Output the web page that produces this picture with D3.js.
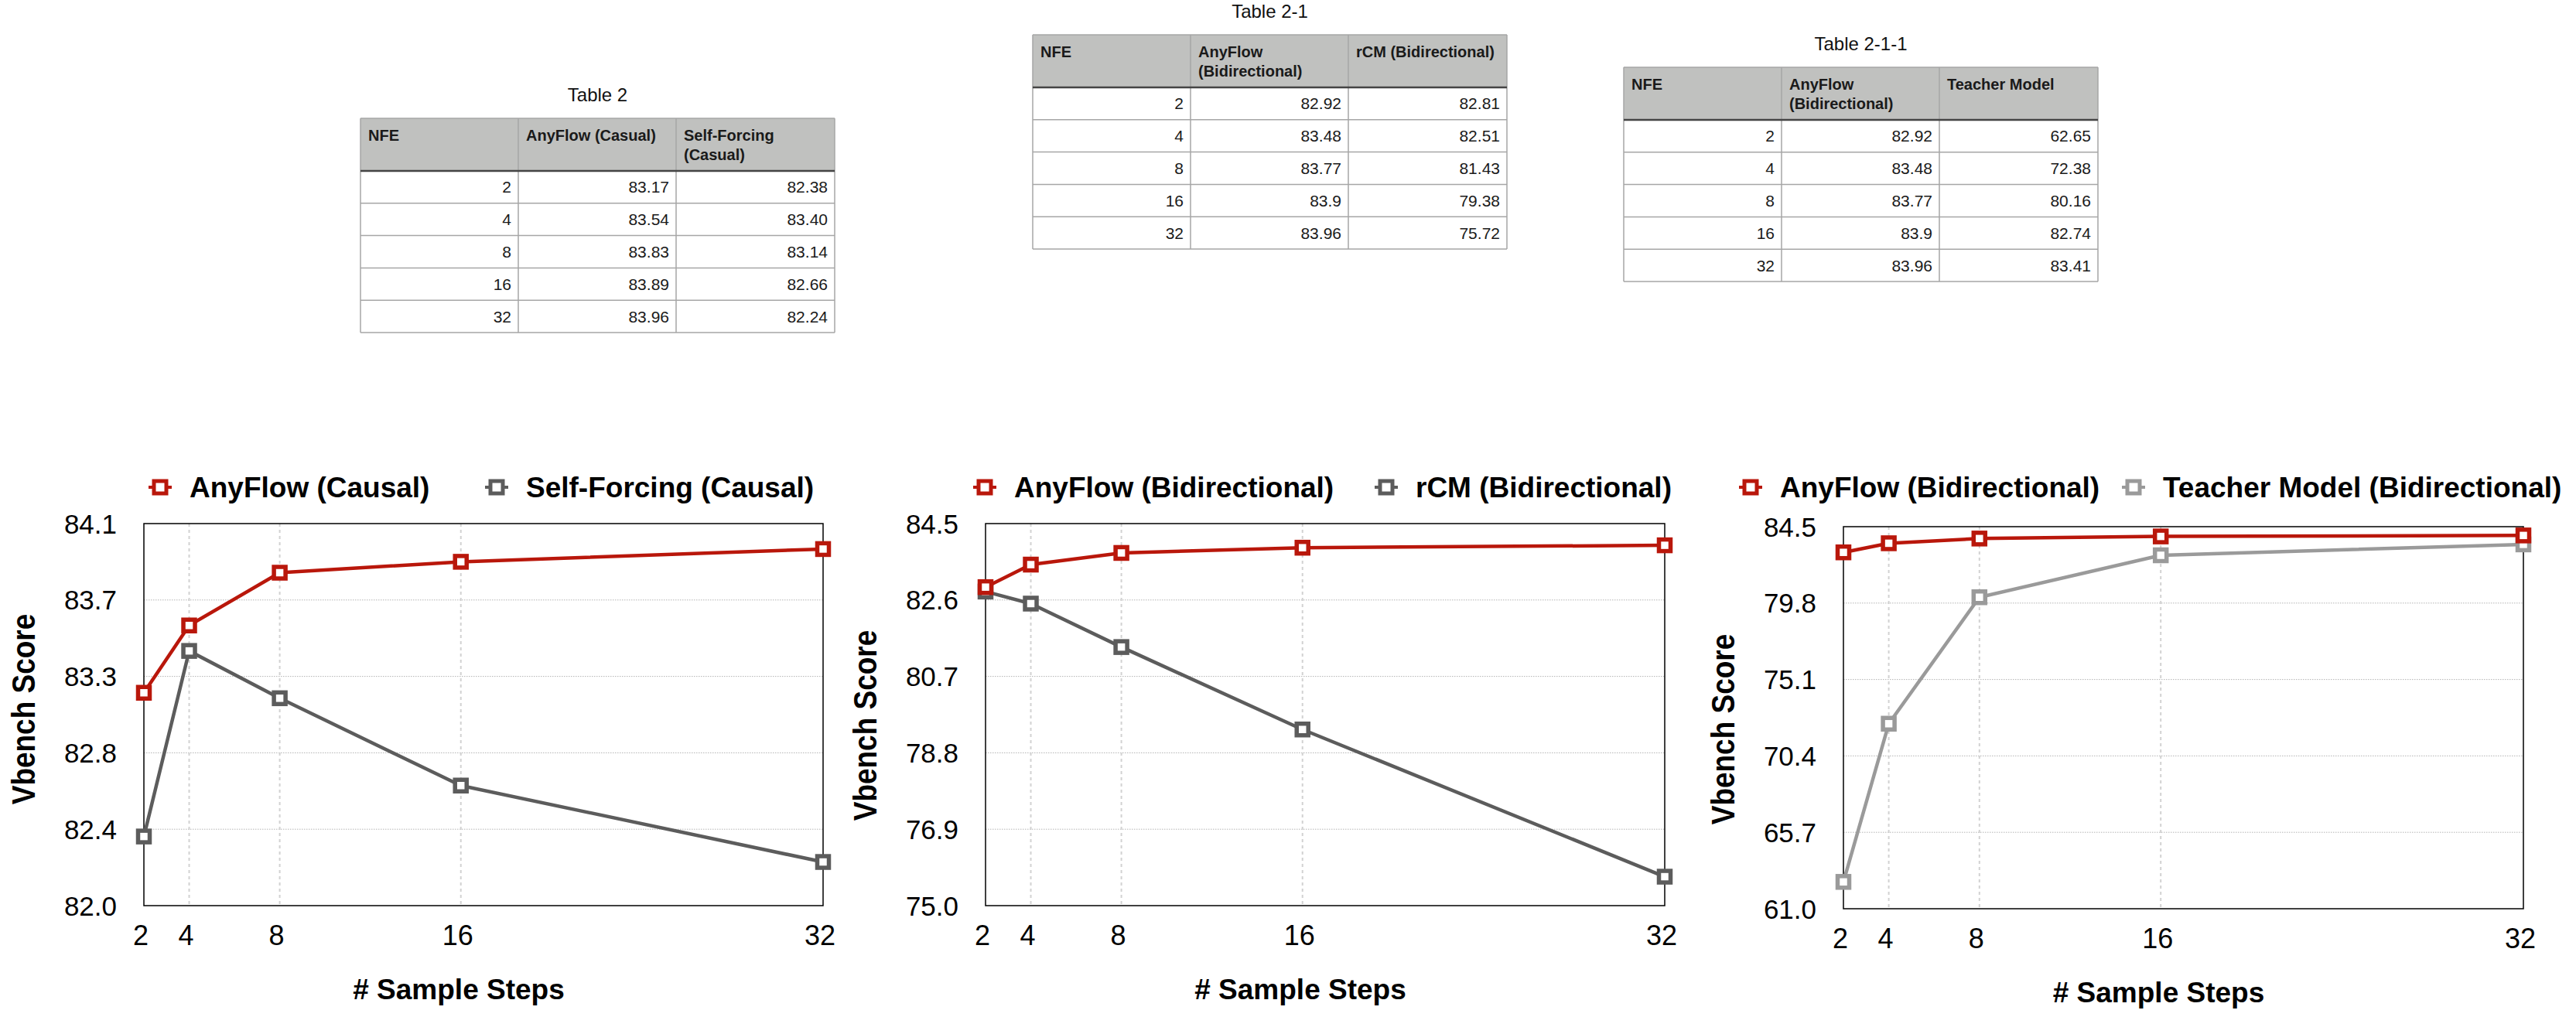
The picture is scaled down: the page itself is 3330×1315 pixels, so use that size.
<!DOCTYPE html>
<html>
<head>
<meta charset="utf-8">
<script src="https://cdn.jsdelivr.net/npm/d3@7"></script>
<style>
  html, body { margin: 0; padding: 0; background: #fff; }
  svg { display: block; font-family: "Liberation Sans", Arial, Helvetica, sans-serif; }
</style>
</head>
<body>
<svg id="fig" width="3330" height="1315"></svg>
<script>
const steps = [2, 4, 8, 16, 32];

const anyflowCausal = [83.17, 83.54, 83.83, 83.89, 83.96];
const selfForcingCausal = [82.38, 83.40, 83.14, 82.66, 82.24];
const anyflowBidir = [82.92, 83.48, 83.77, 83.9, 83.96];
const rcmBidir = [82.81, 82.51, 81.43, 79.38, 75.72];
const teacherBidir = [62.65, 72.38, 80.16, 82.74, 83.41];

// y axis ranges and the tick labels shown on them
const yDomain1 = [82.0, 84.1];
const yDomain2 = [75.0, 84.5];
const yDomain3 = [61.0, 84.5];
const yTicks1 = ['82.0', '82.4', '82.8', '83.3', '83.7', '84.1'];
const yTicks2 = ['75.0', '76.9', '78.8', '80.7', '82.6', '84.5'];
const yTicks3 = ['61.0', '65.7', '70.4', '75.1', '79.8', '84.5'];
const xTicks = ['2', '4', '8', '16', '32'];
const gridSteps = [4, 8, 16];

// Table headers
const table2Head = ['NFE', 'AnyFlow (Casual)', 'Self-Forcing\n(Casual)'];
const table21Head = ['NFE', 'AnyFlow\n(Bidirectional)', 'rCM (Bidirectional)'];
const table211Head = ['NFE', 'AnyFlow\n(Bidirectional)', 'Teacher Model'];

const RED = '#b9170b';
const DARK = '#5c5c5c';
const LIGHT = '#9a9a9a';

const svg = d3.select('#fig');

// ---------- tables ----------
function drawTable(opt) {
    const g = svg.append('g').attr('transform', `translate(${opt.x},${opt.y})`);
    const colW = [204, 204, 205];
    const colX = [0, 204, 408];
    const W = 613, headH = 68, rowH = 41.8;
    const H = headH + rowH * opt.rows.length;

    g.append('text')
        .attr('x', W / 2).attr('y', -22)
        .attr('text-anchor', 'middle')
        .attr('font-size', 24)
        .attr('fill', '#111')
        .text(opt.title);

    g.append('rect').attr('width', W).attr('height', headH).attr('fill', '#c0c1bf');

    // body row lines
    opt.rows.forEach((r, i) => {
        const y0 = headH + rowH * (i + 1);
        g.append('line').attr('x1', 0).attr('x2', W).attr('y1', y0).attr('y2', y0)
            .attr('stroke', '#a6a6a6').attr('stroke-width', 1.5);
    });
    // column lines
    [0, 204, 408, W].forEach(x => {
        g.append('line').attr('x1', x).attr('x2', x).attr('y1', 0).attr('y2', H)
            .attr('stroke', '#a6a6a6').attr('stroke-width', 1.5);
    });
    g.append('line').attr('x1', 0).attr('x2', W).attr('y1', 0).attr('y2', 0)
        .attr('stroke', '#a6a6a6').attr('stroke-width', 1.5);
    g.append('line').attr('x1', 0).attr('x2', W).attr('y1', headH).attr('y2', headH)
        .attr('stroke', '#444').attr('stroke-width', 2.5);

    // header text
    opt.head.forEach((h, c) => {
        const t = g.append('text')
            .attr('x', colX[c] + 10).attr('y', 29)
            .attr('font-size', 20).attr('font-weight', 'bold').attr('fill', '#1a1a1a');
        h.split('\n').forEach((line, k) => {
            t.append('tspan').attr('x', colX[c] + 10).attr('dy', k === 0 ? 0 : 25).text(line);
        });
    });

    // body text
    opt.rows.forEach((r, i) => {
        r.forEach((v, c) => {
            g.append('text')
                .attr('x', colX[c] + colW[c] - 9)
                .attr('y', headH + rowH * i + rowH / 2 + 7.5)
                .attr('text-anchor', 'end')
                .attr('font-size', 21).attr('fill', '#1a1a1a')
                .text(v);
        });
    });
}

const f2 = d3.format('.2f');
drawTable({
    title: 'Table 2', x: 466, y: 153, head: table2Head,
    rows: steps.map((s, i) => [String(s), f2(anyflowCausal[i]), f2(selfForcingCausal[i])])
});
drawTable({
    title: 'Table 2-1', x: 1335, y: 45, head: table21Head,
    rows: steps.map((s, i) => [String(s), String(anyflowBidir[i]), String(rcmBidir[i])])
});
drawTable({
    title: 'Table 2-1-1', x: 2099, y: 87, head: table211Head,
    rows: steps.map((s, i) => [String(s), String(anyflowBidir[i]), String(teacherBidir[i])])
});

// ---------- charts ----------
function drawMarker(g, x, y, color, size) {
    g.append('rect')
        .attr('x', x - size / 2).attr('y', y - size / 2)
        .attr('width', size).attr('height', size)
        .attr('fill', '#fff').attr('stroke', color).attr('stroke-width', 5.5);
}

function drawChart(opt) {
    const left = opt.left, right = opt.right, top = opt.top, bottom = opt.bottom;
    const g = svg.append('g');

    const x = d3.scaleLinear().domain([2, 32]).range([left, right]);
    const y = d3.scaleLinear().domain(opt.yDomain).range([bottom, top]);
    const [lo, hi] = opt.yDomain;
    const tickVals = opt.yTicks.map((t, i) => lo + i * (hi - lo) / (opt.yTicks.length - 1));

    // horizontal dotted grid
    g.append('g').selectAll('line')
        .data(tickVals.slice(1, -1))
        .join('line')
        .attr('x1', left).attr('x2', right)
        .attr('y1', d => y(d)).attr('y2', d => y(d))
        .attr('stroke', '#b4b4b4').attr('stroke-width', 1)
        .attr('stroke-dasharray', '1.5,1.5');

    // vertical dashed grid
    g.append('g').selectAll('line')
        .data(gridSteps)
        .join('line')
        .attr('x1', d => x(d)).attr('x2', d => x(d))
        .attr('y1', top).attr('y2', bottom)
        .attr('stroke', '#d2d2d2').attr('stroke-width', 2)
        .attr('stroke-dasharray', '4,4');

    // frame
    g.append('rect')
        .attr('x', left).attr('y', top)
        .attr('width', right - left).attr('height', bottom - top)
        .attr('fill', 'none').attr('stroke', '#000').attr('stroke-width', 1.5);

    // y tick labels
    g.append('g').selectAll('text')
        .data(opt.yTicks)
        .join('text')
        .attr('x', left - 35)
        .attr('y', (d, i) => y(tickVals[i]) + 12.5)
        .attr('text-anchor', 'end')
        .attr('font-size', 35).attr('fill', '#000')
        .text(d => d);

    // x tick labels
    g.append('g').selectAll('text')
        .data(xTicks)
        .join('text')
        .attr('x', d => x(+d) - 4)
        .attr('y', bottom + 51)
        .attr('text-anchor', 'middle')
        .attr('font-size', 36).attr('fill', '#000')
        .text(d => d);

    // axis titles
    g.append('text')
        .attr('transform', `translate(${left - 141},${(top + bottom) / 2 + opt.titleDy}) rotate(-90) scale(0.86,1)`)
        .attr('text-anchor', 'middle')
        .attr('font-size', 43).attr('font-weight', 'bold').attr('fill', '#000')
        .text('Vbench Score');
    g.append('text')
        .attr('x', (left + right) / 2 - 32).attr('y', bottom + 121)
        .attr('text-anchor', 'middle')
        .attr('font-size', 37).attr('font-weight', 'bold').attr('fill', '#000')
        .text('# Sample Steps');

    const line = d3.line().x((d, i) => x(steps[i])).y(d => y(d));

    // series: grey drawn first, red on top
    opt.series.slice().reverse().forEach(s => {
        g.append('path')
            .datum(s.values)
            .attr('d', line)
            .attr('fill', 'none').attr('stroke', s.color).attr('stroke-width', 4.5)
            .attr('stroke-linejoin', 'round');
        s.values.forEach((v, i) => drawMarker(g, x(steps[i]), y(v), s.color, 15));
    });

    // legend
    opt.series.forEach((s, k) => {
        const lx = opt.legendX[k], ly = 630;
        g.append('line')
            .attr('x1', lx - 15).attr('x2', lx + 15).attr('y1', ly).attr('y2', ly)
            .attr('stroke', s.color).attr('stroke-width', 4);
        g.append('rect')
            .attr('x', lx - 8).attr('y', ly - 8).attr('width', 16).attr('height', 16)
            .attr('fill', '#fff').attr('stroke', s.color).attr('stroke-width', 5);
        g.append('text')
            .attr('x', lx + 38).attr('y', ly + 13)
            .attr('font-size', 37).attr('font-weight', 'bold').attr('fill', '#000')
            .text(s.name);
    });
}

drawChart({
    left: 186, right: 1064, top: 677, bottom: 1171, titleDy: -7,
    yDomain: yDomain1, yTicks: yTicks1, legendX: [207, 642],
    series: [
        { name: 'AnyFlow (Causal)', values: anyflowCausal, color: RED },
        { name: 'Self-Forcing (Causal)', values: selfForcingCausal, color: DARK }
    ]
});
drawChart({
    left: 1274, right: 2152, top: 677, bottom: 1171, titleDy: 14,
    yDomain: yDomain2, yTicks: yTicks2, legendX: [1273, 1792],
    series: [
        { name: 'AnyFlow (Bidirectional)', values: anyflowBidir, color: RED },
        { name: 'rCM (Bidirectional)', values: rcmBidir, color: DARK }
    ]
});
drawChart({
    left: 2383, right: 3262, top: 681, bottom: 1175, titleDy: 15,
    yDomain: yDomain3, yTicks: yTicks3, legendX: [2263, 2758],
    series: [
        { name: 'AnyFlow (Bidirectional)', values: anyflowBidir, color: RED },
        { name: 'Teacher Model (Bidirectional)', values: teacherBidir, color: LIGHT }
    ]
});
</script>
</body>
</html>
